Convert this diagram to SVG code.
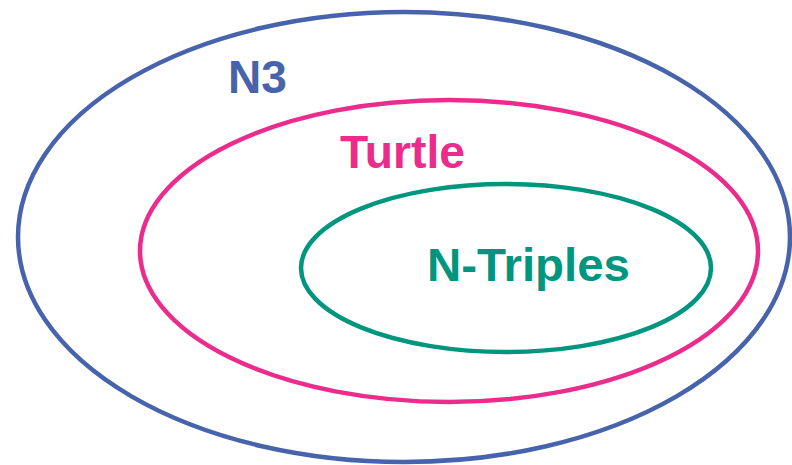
<svg xmlns="http://www.w3.org/2000/svg" width="792" height="465" viewBox="0 0 792 465">
<style>
.e{fill:none;stroke-width:4.5}
.t{font-family:"Liberation Sans",Arial,sans-serif;font-weight:bold;font-size:46px}
</style>
<rect width="792" height="465" fill="#fff"/>
<g id="n3">
<ellipse class="e" cx="404" cy="237" rx="386" ry="225" stroke="#4763AC"/>
<text class="t" x="228" y="93" fill="#4763AC">N3</text>
</g>
<g id="turtle">
<ellipse class="e" cx="449" cy="251" rx="309" ry="151" stroke="#EC2C8C"/>
<text class="t" x="340" y="168" fill="#EC2C8C" textLength="125" lengthAdjust="spacingAndGlyphs">Turtle</text>
</g>
<g id="ntriples">
<ellipse class="e" cx="506" cy="268" rx="205" ry="84" stroke="#00957F"/>
<text class="t" x="427" y="281" fill="#00957F" textLength="203" lengthAdjust="spacingAndGlyphs">N-Triples</text>
</g>
<g id="connectors"/>
</svg>
